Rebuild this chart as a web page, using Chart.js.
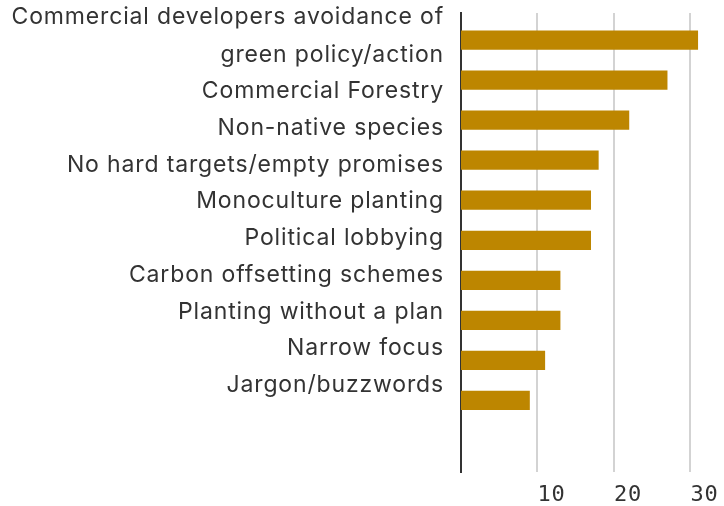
<!DOCTYPE html>
<html>
<head>
<meta charset="utf-8">
<script src="https://cdn.jsdelivr.net/npm/chart.js@4.4.0/dist/chart.umd.min.js"></script>
<style>
  html, body { margin: 0; padding: 0; background: #fff; }
  #wrap { width: 724px; height: 506px; position: relative; }
</style>
</head>
<body>
<div id="wrap"><canvas id="myChart"></canvas></div>
<script>
// issues, top to bottom (the first one wraps onto two lines)
const issues = [
  ['Commercial developers avoidance of', 'green policy/action'],
  'Commercial Forestry',
  'Non-native species',
  'No hard targets/empty promises',
  'Monoculture planting',
  'Political lobbying',
  'Carbon offsetting schemes',
  'Planting without a plan',
  'Narrow focus',
  'Jargon/buzzwords'
];
const counts = [31, 27, 22, 18, 17, 17, 13, 13, 11, 9];
const countTicks = [10, 20, 30];

const textColor = '#333333';
const barColor = '#bd8600';

// labels sit on a running line count, so a wrapped label takes two lines
let line = 0;
const labelPos = issues.map(function (l) {
  const n = Array.isArray(l) ? l.length : 1;
  const p = line + (n - 1) / 2;
  line += n;
  return p;
});

const bars = counts.map(function (c, i) { return {x: c, y: i}; });

const data = {
  datasets: [{
    data: bars,
    backgroundColor: barColor,
    borderWidth: 0,
    barPercentage: 0.71,
    categoryPercentage: 1,
    yAxisID: 'y'
  }]
};

// a bit of tracking on the label text
const spacing = {
  id: 'spacing',
  beforeDraw: function (chart) { chart.ctx.letterSpacing = '0.85px'; },
  afterDraw: function (chart) { chart.ctx.letterSpacing = '0px'; }
};

const config = {
  type: 'bar',
  data: data,
  plugins: [spacing],
  options: {
    indexAxis: 'y',
    responsive: true,
    maintainAspectRatio: false,
    animation: false,
    layout: { padding: { top: 13, right: 3, bottom: 0, left: 0 } },
    plugins: {
      legend: { display: false },
      tooltip: { enabled: false }
    },
    scales: {
      x: {
        type: 'linear',
        position: 'bottom',
        min: 0,
        max: 34,
        grid: { color: '#d3d3d3', lineWidth: 2, drawTicks: false },
        border: { display: false },
        ticks: {
          align: 'start',
          padding: 10,
          color: textColor,
          font: { family: "'DejaVu Sans Mono', monospace", size: 22 }
        },
        afterBuildTicks: function (s) {
          s.ticks = countTicks.map(function (v) { return {value: v}; });
        },
        afterFit: function (s) {
          s.height = 34;
          s.paddingLeft = 0;
          s.paddingRight = 0;
        }
      },
      y: {
        type: 'linear',
        display: false,
        offset: false,
        reverse: true,
        min: -0.678,
        max: 10.79
      },
      labels: {
        type: 'linear',
        position: 'left',
        offset: false,
        reverse: true,
        min: -0.13,
        max: 12.367,
        grid: { display: false, drawTicks: false },
        border: { display: true, color: '#333333', width: 2 },
        ticks: {
          padding: 17,
          autoSkip: false,
          color: textColor,
          font: { family: "Inter, sans-serif", size: 23, lineHeight: '38px' },
          callback: function (v, i) { return issues[i]; }
        },
        afterBuildTicks: function (s) {
          s.ticks = labelPos.map(function (v) { return {value: v}; });
        },
        afterFit: function (s) {
          s.width = 461;
          s.paddingTop = 0;
          s.paddingBottom = 0;
        }
      }
    }
  }
};

const myChart = new Chart(document.getElementById('myChart'), config);
</script>
</body>
</html>
